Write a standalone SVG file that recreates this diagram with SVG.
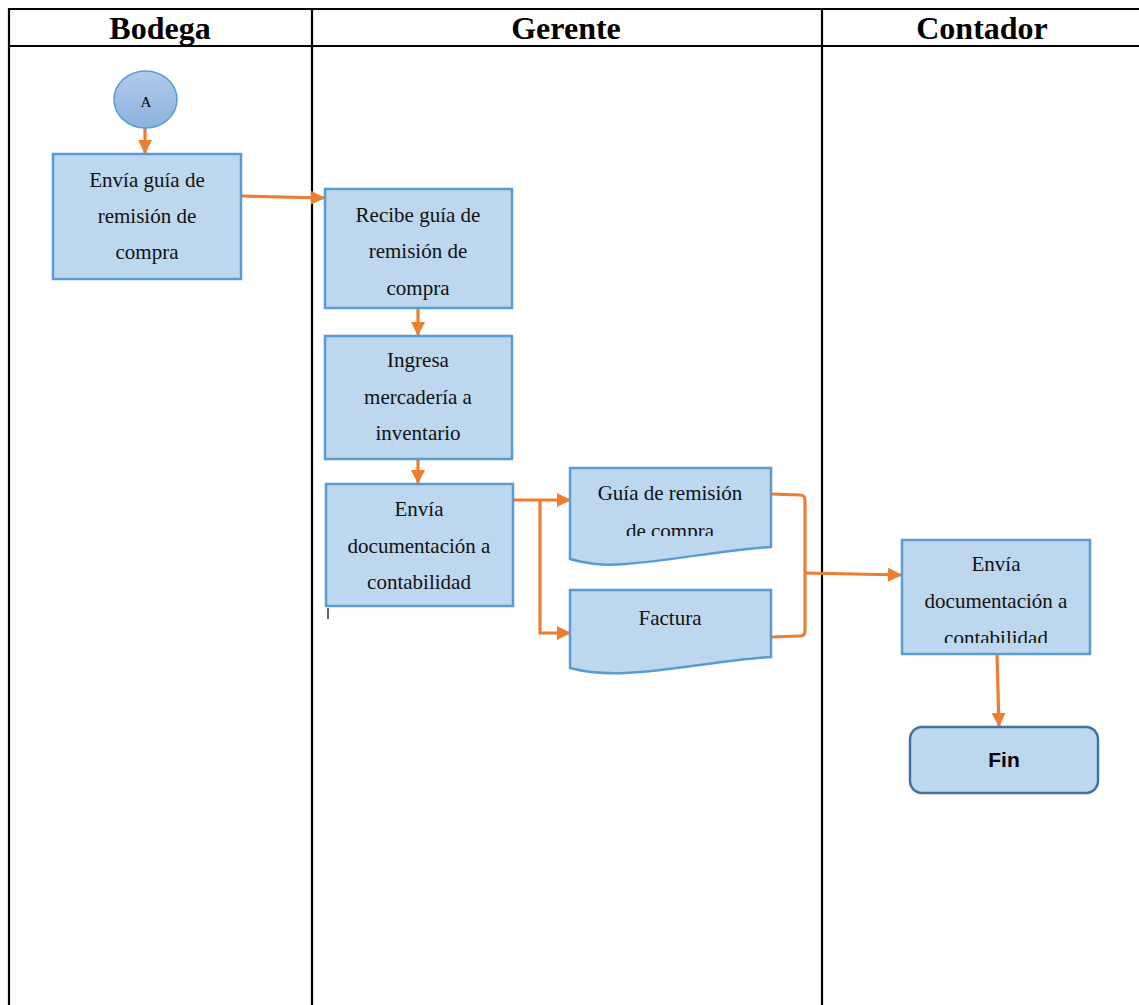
<svg xmlns="http://www.w3.org/2000/svg" width="1139" height="1005" viewBox="0 0 1139 1005">
<style>
.grid{stroke:#000;stroke-width:2.2;fill:none}
.hdr{font-family:"Liberation Serif",serif;font-weight:bold;font-size:32px;text-anchor:middle;fill:#000}
.box{fill:#bdd7ee;stroke:#5b9bd5;stroke-width:2.5}
.t{font-family:"Liberation Serif",serif;font-size:21px;text-anchor:middle;fill:#111}
.con{stroke:#ed7d31;stroke-width:3.2;fill:none}
</style>
<defs>
<marker id="ah" markerUnits="userSpaceOnUse" markerWidth="16" markerHeight="16" refX="14" refY="8" orient="auto">
<path d="M0,1 L14,8 L0,15 Z" fill="#ed7d31"/>
</marker>
<linearGradient id="cg" x1="0" y1="0" x2="0" y2="1">
<stop offset="0" stop-color="#b0cbea"/>
<stop offset="1" stop-color="#8cb2df"/>
</linearGradient>
<clipPath id="c1"><rect x="570" y="468" width="201" height="68"/></clipPath>
<clipPath id="c5"><rect x="902" y="540" width="188" height="103"/></clipPath>
</defs>
<g id="table">
<line class="grid" x1="9" y1="9" x2="1139" y2="9"/>
<line class="grid" x1="9" y1="46" x2="1139" y2="46"/>
<line class="grid" x1="9" y1="8" x2="9" y2="1005"/>
<line class="grid" x1="312" y1="9" x2="312" y2="1005"/>
<line class="grid" x1="822" y1="9" x2="822" y2="1005"/>
<text class="hdr" x="160" y="39">Bodega</text>
<text class="hdr" x="566" y="39">Gerente</text>
<text class="hdr" x="982" y="39">Contador</text>
</g>
<g id="connectors">
<line class="con" x1="145" y1="128" x2="145" y2="154" marker-end="url(#ah)"/>
<line class="con" x1="241" y1="196" x2="325" y2="198" marker-end="url(#ah)"/>
<line class="con" x1="418" y1="308" x2="418" y2="336" marker-end="url(#ah)"/>
<line class="con" x1="418" y1="459" x2="418" y2="484" marker-end="url(#ah)"/>
<line class="con" x1="514" y1="500" x2="571" y2="500" marker-end="url(#ah)"/>
<polyline class="con" points="540,500 540,633 571,633" marker-end="url(#ah)"/>
<path class="con" d="M771,494 L800,495 Q805,495 805,500 L805,631 Q805,636 800,636 L771,637"/>
<line class="con" x1="805" y1="573" x2="902" y2="575" marker-end="url(#ah)"/>
<line class="con" x1="997" y1="654" x2="999" y2="727" marker-end="url(#ah)"/>
<line x1="328" y1="608" x2="328" y2="619" stroke="#000" stroke-width="1.2"/>
</g>
<g id="nodeA">
<ellipse cx="145.5" cy="99.5" rx="31.5" ry="28.5" fill="url(#cg)" stroke="#5b9bd5" stroke-width="1.5"/>
<text x="146" y="107" font-family="Liberation Serif,serif" font-size="15" text-anchor="middle" fill="#000">A</text>
</g>
<g id="n1">
<rect class="box" x="53" y="154" width="188" height="125"/>
<text class="t" x="147" y="187">Envía guía de</text>
<text class="t" x="147" y="223">remisión de</text>
<text class="t" x="147" y="259">compra</text>
</g>
<g id="n2">
<rect class="box" x="325" y="189" width="187" height="119"/>
<text class="t" x="418" y="222">Recibe guía de</text>
<text class="t" x="418" y="258">remisión de</text>
<text class="t" x="418" y="295">compra</text>
</g>
<g id="n3">
<rect class="box" x="325" y="336" width="187" height="123"/>
<text class="t" x="418" y="367">Ingresa</text>
<text class="t" x="418" y="404">mercadería a</text>
<text class="t" x="418" y="440">inventario</text>
</g>
<g id="n4">
<rect class="box" x="326" y="484" width="187" height="122"/>
<text class="t" x="419" y="516">Envía</text>
<text class="t" x="419" y="553">documentación a</text>
<text class="t" x="419" y="589">contabilidad</text>
</g>
<g id="doc1">
<path class="box" d="M570,468 L771,468 L771,547 C720,550 680,560 625,564 C600,566 585,563 570,559 Z"/>
<g clip-path="url(#c1)">
<text class="t" x="670" y="500">Guía de remisión</text>
<text class="t" x="670" y="538">de compra</text>
</g>
</g>
<g id="doc2">
<path class="box" d="M570,590 L771,590 L771,657 C720,660 680,670 625,673 C600,674 585,672 570,668 Z"/>
<text class="t" x="670" y="625">Factura</text>
</g>
<g id="n5">
<rect class="box" x="902" y="540" width="188" height="114"/>
<g clip-path="url(#c5)">
<text class="t" x="996" y="571">Envía</text>
<text class="t" x="996" y="608">documentación a</text>
<text class="t" x="996" y="645">contabilidad</text>
</g>
</g>
<g id="fin">
<rect x="910" y="727" width="188" height="66" rx="12" fill="#bdd7ee" stroke="#41719c" stroke-width="2.5"/>
<text x="1004" y="767" font-family="Liberation Sans,sans-serif" font-weight="bold" font-size="21" text-anchor="middle" fill="#000">Fin</text>
</g>
</svg>
